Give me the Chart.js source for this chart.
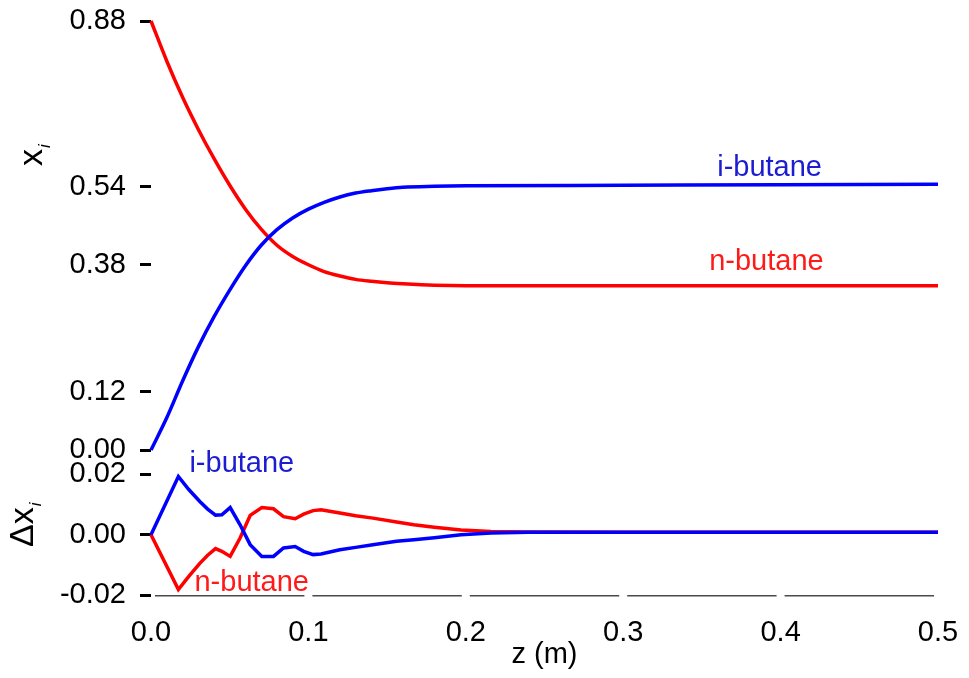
<!DOCTYPE html>
<html><head><meta charset="utf-8">
<script src="https://cdn.jsdelivr.net/npm/chart.js@4.4.1/dist/chart.umd.min.js"></script>
<style>html,body{margin:0;padding:0;background:#fff;}canvas{display:block;}</style>
</head><body>
<canvas id="c" width="969" height="678"></canvas>
<script>
// ---- data ----
const zTop = [0, 0.01, 0.02, 0.03, 0.04, 0.05, 0.06, 0.07, 0.08, 0.09, 0.1, 0.11, 0.12, 0.13, 0.14, 0.15, 0.16, 0.18, 0.2, 0.3, 0.4, 0.5];
const iButane = [0.000, 0.066, 0.141, 0.211, 0.273, 0.328, 0.378, 0.420, 0.452, 0.476, 0.494, 0.508, 0.519, 0.527, 0.532, 0.536, 0.539, 0.541, 0.542, 0.543, 0.544, 0.545];
const nButane = [0.880, 0.798, 0.724, 0.658, 0.598, 0.543, 0.494, 0.453, 0.420, 0.397, 0.380, 0.366, 0.357, 0.350, 0.346, 0.343, 0.341, 0.338, 0.337, 0.337, 0.337, 0.337];

const zDelta = [0, 0.0174, 0.024, 0.031, 0.036, 0.041, 0.045, 0.0503, 0.0566, 0.063, 0.0704, 0.0778, 0.0842, 0.0916, 0.097, 0.103, 0.108, 0.12, 0.13, 0.141, 0.156, 0.167, 0.18, 0.197, 0.216, 0.24, 0.3, 0.4, 0.5];
const dIButane = [0, 0.0193, 0.0150, 0.0110, 0.0085, 0.0065, 0.0066, 0.0090, 0.0033, -0.0033, -0.0072, -0.0072, -0.0044, -0.0039, -0.0055, -0.0066, -0.0064, -0.0050, -0.0042, -0.0033, -0.0022, -0.0017, -0.0010, 0.0000, 0.0006, 0.0008, 0.0008, 0.0008, 0.0008];
const dNButane = [0, -0.0182, -0.0138, -0.0095, -0.0068, -0.0046, -0.0055, -0.0072, -0.0011, 0.0064, 0.0090, 0.0086, 0.0060, 0.0053, 0.0068, 0.0080, 0.0083, 0.0072, 0.0063, 0.0055, 0.0042, 0.0033, 0.0025, 0.0016, 0.0011, 0.0009, 0.0008, 0.0008, 0.0008];

const xTicks = [0, 0.1, 0.2, 0.3, 0.4, 0.5];
const yTopTicks = [0, 0.12, 0.38, 0.54, 0.88];
const yBotTicks = [-0.02, 0, 0.02];
const seriesNames = ['i-butane', 'n-butane'];

// ---- styling ----
const BLUE = '#0000ff', RED = '#ff0000';
const BLUE_TXT = '#1c1cd0', RED_TXT = '#ff1a1a';
const FONT = "'Liberation Sans', Arial, sans-serif";
Chart.defaults.font.family = FONT;
Chart.defaults.color = '#000';

const pts = (xs, ys) => xs.map((x, i) => ({x, y: ys[i]}));

const curveLabels = [
  {text: seriesNames[0], z: 0.393, v: 0.578, axis: 'y', color: BLUE_TXT},
  {text: seriesNames[1], z: 0.391, v: 0.386, axis: 'y', color: RED_TXT},
  {text: seriesNames[0], z: 0.0577, v: 0.0235, axis: 'y2', color: BLUE_TXT},
  {text: seriesNames[1], z: 0.064, v: -0.0159, axis: 'y2', color: RED_TXT}
];

const decor = {
  id: 'decor',
  afterDraw(chart) {
    const {ctx, chartArea, scales} = chart;
    const x = scales.x;
    // segmented x axis line
    ctx.save();
    ctx.strokeStyle = '#4a4a4a';
    ctx.lineWidth = 1.5;
    const yb = chartArea.bottom + 0.75;
    for (let k = 0; k < xTicks.length - 1; k++) {
      const a = x.getPixelForValue(xTicks[k]) + 4;
      const b = x.getPixelForValue(xTicks[k + 1]) - 4;
      ctx.beginPath(); ctx.moveTo(a, yb); ctx.lineTo(b, yb); ctx.stroke();
    }
    // curve labels
    ctx.font = '29px ' + FONT;
    ctx.textAlign = 'center';
    ctx.textBaseline = 'middle';
    curveLabels.forEach(l => {
      ctx.fillStyle = l.color;
      ctx.fillText(l.text, x.getPixelForValue(l.z), scales[l.axis].getPixelForValue(l.v));
    });
    // y axis titles (rotated)
    ctx.fillStyle = '#000';
    ctx.textAlign = 'left';
    ctx.textBaseline = 'alphabetic';
    const drawTitle = (px, py, main) => {
      ctx.save();
      ctx.translate(px, py);
      ctx.rotate(-Math.PI / 2);
      ctx.font = '34px ' + FONT;
      ctx.fillText(main, 0, 0);
      const w = ctx.measureText(main).width;
      ctx.font = 'italic 17px ' + FONT;
      ctx.fillText('i', w + 1, 8);
      ctx.restore();
    };
    drawTitle(42, 166, 'x');
    drawTitle(33, 547, '\u0394x');
    ctx.restore();
  }
};

const yCommon = (ticks, digits) => ({
  type: 'linear',
  position: 'left',
  stack: 'panels',
  border: {display: false},
  grid: {display: true, drawOnChartArea: false, drawTicks: true, tickLength: 11, tickWidth: 3, tickColor: '#000'},
  ticks: {font: {size: 29}, padding: 14, color: '#000', callback: v => Number(v).toFixed(digits)},
  afterBuildTicks: s => { s.ticks = ticks.map(v => ({value: v})); },
  afterFit: s => { s.width = 151; s.paddingTop = 0; s.paddingBottom = 0; }
});

new Chart(document.getElementById('c'), {
  type: 'line',
  data: {
    datasets: [
      {label: seriesNames[1], data: pts(zTop, nButane), yAxisID: 'y', borderColor: RED, borderWidth: 3.5, pointRadius: 0, cubicInterpolationMode: 'monotone', clip: false, order: 2},
      {label: seriesNames[0], data: pts(zTop, iButane), yAxisID: 'y', borderColor: BLUE, borderWidth: 3.5, pointRadius: 0, cubicInterpolationMode: 'monotone', clip: false, order: 1},
      {label: 'Δ ' + seriesNames[1], data: pts(zDelta, dNButane), yAxisID: 'y2', borderColor: RED, borderWidth: 3.5, pointRadius: 0, tension: 0, clip: false, order: 2},
      {label: 'Δ ' + seriesNames[0], data: pts(zDelta, dIButane), yAxisID: 'y2', borderColor: BLUE, borderWidth: 3.5, pointRadius: 0, tension: 0, clip: false, order: 1}
    ]
  },
  options: {
    responsive: false,
    animation: false,
    events: [],
    layout: {padding: {left: 0, right: 31, top: 21, bottom: 0}},
    plugins: {legend: {display: false}, tooltip: {enabled: false}},
    scales: {
      x: {
        type: 'linear', min: 0, max: 0.5,
        border: {display: false},
        grid: {display: false, drawTicks: false, tickLength: 0},
        ticks: {font: {size: 29}, padding: 21, color: '#000', maxRotation: 0, autoSkip: false, callback: v => Number(v).toFixed(1)},
        afterBuildTicks: s => { s.ticks = xTicks.map(v => ({value: v})); },
        title: {display: true, text: 'z (m)', font: {size: 29}, color: '#000', padding: {top: 0, bottom: 6}},
        afterFit: s => { s.height = 83; s.paddingLeft = 0; s.paddingRight = 0; }
      },
      y: Object.assign(yCommon(yTopTicks, 2), {min: 0, max: 0.88, stackWeight: 429, weight: 1}),
      y2: Object.assign(yCommon(yBotTicks, 2), {min: -0.02, max: 0.0281, stackWeight: 145, weight: 0})
    }
  },
  plugins: [decor]
});
</script>
</body></html>
